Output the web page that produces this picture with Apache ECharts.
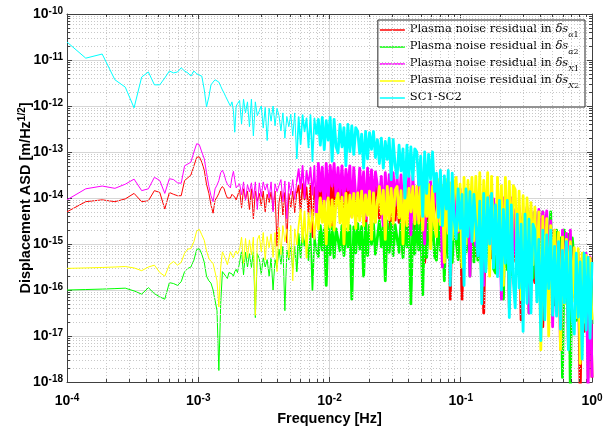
<!DOCTYPE html>
<html><head><meta charset="utf-8">
<script src="https://cdn.jsdelivr.net/npm/echarts@6/dist/echarts.min.js"></script>
<style>html,body{margin:0;padding:0;background:#fff}#c{width:603px;height:426px}</style>
</head><body><div id="c"></div>
<script>
// Frequency grid, log10(f / Hz)
const logFreq = [
-4.000,-3.857,-3.732,-3.635,-3.556,-3.489,-3.431,-3.380,-3.334,-3.293,-3.255,-3.220,-3.188,-3.158,-3.130,-3.104,-3.079,-3.056,-3.033,-3.012,-2.992,-2.973,-2.954,-2.937,-2.919,-2.903,-2.887,-2.872,-2.857,-2.843,-2.829,-2.816,-2.803,-2.790,-2.778,-2.766,-2.755,-2.743,-2.732,-2.722,-2.711,-2.701,
-2.685,-2.670,-2.655,-2.640,-2.625,-2.610,-2.595,-2.580,-2.565,-2.550,
-2.535,-2.520,-2.505,-2.490,-2.475,-2.460,-2.445,-2.430,-2.415,-2.400,
-2.385,-2.370,-2.355,-2.340,-2.325,-2.310,-2.295,-2.280,-2.265,-2.250,
-2.235,-2.220,-2.205,-2.190,-2.175,-2.160,-2.145,-2.130,-2.115,-2.100,
-2.085,-2.070,-2.055,-2.040,-2.025,-2.010,-1.995,-1.980,-1.965,-1.950,
-1.935,-1.920,-1.905,-1.890,-1.875,-1.860,-1.845,-1.830,-1.815,-1.800,
-1.785,-1.770,-1.755,-1.740,-1.725,-1.710,-1.695,-1.680,-1.665,-1.650,
-1.635,-1.620,-1.605,-1.590,-1.575,-1.560,-1.545,-1.530,-1.515,-1.500,
-1.485,-1.470,-1.455,-1.440,-1.425,-1.410,-1.395,-1.380,-1.365,-1.350,
-1.335,-1.320,-1.305,-1.290,-1.275,-1.260,-1.245,-1.230,-1.215,-1.200,
-1.185,-1.170,-1.155,-1.140,-1.125,-1.110,-1.095,-1.080,-1.065,-1.050,
-1.035,-1.020,-1.005,-0.990,-0.975,-0.960,-0.945,-0.930,-0.915,-0.900,
-0.885,-0.870,-0.855,-0.840,-0.825,-0.810,-0.795,-0.780,-0.765,-0.750,
-0.735,-0.720,-0.705,-0.690,-0.675,-0.660,-0.645,-0.630,-0.615,-0.600,
-0.585,-0.570,-0.555,-0.540,-0.525,-0.510,-0.495,-0.480,-0.465,-0.450,
-0.435,-0.420,-0.405,-0.390,-0.375,-0.360,-0.345,-0.330,-0.315,-0.300,
-0.285,-0.270,-0.255,-0.240,-0.225,-0.210,-0.195,-0.180,-0.165,-0.150,
-0.135,-0.120,-0.105,-0.090,-0.075,-0.060,-0.045,-0.030,-0.015,0.000];

// Series values, log10(ASD / (m/Hz^1/2))
const redAlpha1 = [
-14.30,-14.08,-14.04,-14.08,-14.02,-13.90,-14.08,-14.06,-13.84,-13.88,-14.24,-13.88,-13.92,-13.95,-13.95,-13.62,-13.56,-13.50,-13.30,-13.12,-13.10,-13.22,-13.40,-13.70,-13.90,-14.15,-14.33,-14.05,-13.98,-13.90,-13.80,-13.75,-13.80,-13.92,-14.00,-14.04,-14.00,-13.92,-13.90,-13.98,-14.04,-14.00,
-13.82,-14.21,-13.80,-14.03,-13.85,-14.25,-13.80,-14.45,-13.85,-14.07,
-13.90,-14.17,-13.85,-14.30,-13.92,-14.10,-13.87,-14.26,-13.85,-15.05,
-14.10,-13.85,-14.37,-13.88,-14.98,-13.90,-14.21,-13.85,-14.32,-13.90,
-13.73,-14.29,-13.70,-14.03,-13.77,-14.35,-13.70,-14.85,-13.77,-14.09,
-13.59,-14.15,-13.55,-14.25,-13.62,-14.04,-13.55,-14.60,-13.59,-14.18,
-13.60,-14.16,-13.67,-14.70,-13.60,-14.30,-13.64,-14.06,-13.60,-14.27,
-14.37,-13.70,-14.23,-13.77,-14.80,-13.70,-14.33,-13.74,-14.40,-13.77,
-13.84,-14.44,-13.80,-14.55,-13.88,-14.33,-13.80,-15.00,-13.84,-14.48,
-13.85,-14.53,-13.94,-15.20,-13.85,-14.70,-13.89,-14.40,-13.85,-14.66,
-14.76,-13.90,-14.58,-13.99,-15.40,-13.90,-14.71,-13.95,-14.80,-13.99,
-14.05,-14.85,-14.00,-15.00,-14.10,-14.70,-14.00,-16.20,-14.05,-14.90,
-14.10,-14.90,-14.20,-16.20,-14.10,-15.10,-14.15,-14.75,-14.10,-15.05,
-15.25,-14.20,-15.03,-14.31,-16.50,-14.20,-15.19,-14.26,-15.30,-14.31,
-14.36,-15.32,-14.30,-15.50,-14.42,-15.14,-14.30,-16.40,-14.36,-15.38,
-14.40,-15.44,-14.53,-16.65,-14.40,-15.70,-14.47,-15.25,-14.40,-15.64,
-15.84,-14.60,-15.58,-14.73,-16.80,-14.60,-15.77,-14.67,-15.90,-14.73,
-14.97,-16.09,-14.90,-16.30,-15.04,-15.88,-14.90,-17.20,-14.97,-16.16,
-15.30,-16.58,-15.46,-18.30,-15.30,-16.90,-15.38,-16.34,-15.30,-17.90];

const greenAlpha2 = [
-16.00,-15.99,-15.98,-15.97,-15.96,-16.02,-16.09,-15.95,-16.08,-16.15,-16.20,-15.84,-15.86,-15.90,-15.82,-15.60,-15.53,-15.50,-15.35,-15.12,-15.10,-15.22,-15.40,-15.70,-15.80,-15.85,-16.00,-16.00,-16.45,-17.75,-16.30,-15.60,-15.60,-15.70,-15.75,-15.62,-15.58,-15.65,-15.70,-15.60,-15.55,-15.62,
-15.40,-15.15,-15.67,-15.18,-15.50,-15.21,-15.51,-15.15,-16.60,-15.21,
-15.32,-15.66,-15.30,-15.50,-15.34,-15.70,-15.30,-16.00,-15.34,-15.54,
-15.11,-15.44,-15.05,-16.45,-15.13,-15.35,-15.08,-15.55,-15.05,-15.60,
-14.78,-15.29,-14.75,-15.05,-14.81,-15.35,-14.75,-16.00,-14.81,-15.11,
-15.27,-14.60,-15.13,-14.67,-15.90,-14.60,-15.23,-14.64,-15.30,-14.67,
-14.63,-15.15,-14.60,-15.25,-14.67,-15.06,-14.60,-16.20,-14.63,-15.19,
-14.55,-15.11,-14.62,-15.70,-14.55,-15.25,-14.59,-15.01,-14.55,-15.22,
-15.21,-14.50,-15.06,-14.58,-15.80,-14.50,-15.18,-14.54,-15.25,-14.58,
-14.54,-15.18,-14.50,-15.30,-14.58,-15.06,-14.50,-16.30,-14.54,-15.22,
-14.45,-15.13,-14.54,-16.10,-14.45,-15.30,-14.49,-15.00,-14.45,-15.26,
-15.35,-14.40,-15.15,-14.50,-15.80,-14.40,-15.30,-14.45,-15.40,-14.50,
-14.46,-15.34,-14.40,-15.50,-14.51,-15.17,-14.40,-15.70,-14.46,-15.39,
-14.35,-15.35,-14.48,-15.95,-14.35,-15.60,-14.41,-15.16,-14.35,-15.54,
-15.63,-14.30,-15.35,-14.44,-16.20,-14.30,-15.56,-14.37,-15.70,-14.44,
-14.33,-15.65,-14.25,-15.90,-14.42,-15.41,-14.25,-16.50,-14.33,-15.74,
-14.30,-15.74,-14.48,-16.80,-14.30,-16.10,-14.39,-15.47,-14.30,-16.01,
-16.32,-14.70,-15.98,-14.87,-17.90,-14.70,-16.23,-14.79,-18.20,-14.87,
-15.38,-16.66,-15.30,-16.90,-15.46,-16.42,-15.30,-17.90,-15.38,-16.74];

const magentaX1 = [
-14.04,-13.80,-13.74,-13.79,-13.70,-13.59,-13.84,-13.80,-13.55,-13.62,-13.90,-13.58,-13.60,-13.67,-13.68,-13.30,-13.26,-13.22,-13.00,-12.82,-12.84,-13.00,-13.15,-13.45,-13.75,-13.95,-14.08,-13.80,-13.72,-13.62,-13.45,-13.40,-13.48,-13.62,-13.70,-13.72,-13.78,-13.55,-13.42,-13.60,-13.78,-13.76,
-13.69,-13.93,-13.65,-14.05,-13.71,-13.87,-13.67,-14.01,-13.65,-14.25,
-13.67,-13.97,-13.65,-13.83,-13.69,-14.00,-13.65,-14.30,-13.69,-13.86,
-13.83,-13.60,-14.08,-13.63,-14.45,-13.65,-13.93,-13.60,-14.03,-13.65,
-13.37,-13.79,-13.30,-14.00,-13.41,-13.69,-13.34,-13.93,-13.30,-14.40,
-13.25,-13.85,-13.33,-14.30,-13.25,-14.00,-13.29,-13.74,-13.25,-13.96,
-13.34,-13.94,-13.30,-14.05,-13.38,-13.83,-13.30,-14.40,-13.34,-13.98,
-14.06,-13.35,-13.91,-13.43,-14.45,-13.35,-14.03,-13.39,-14.10,-13.43,
-13.45,-14.05,-13.53,-14.60,-13.45,-14.20,-13.49,-13.94,-13.45,-14.16,
-13.54,-14.18,-13.50,-14.30,-13.58,-14.06,-13.50,-14.80,-13.54,-14.22,
-14.46,-13.60,-14.28,-13.69,-15.00,-13.60,-14.41,-13.65,-14.50,-13.69,
-13.70,-14.50,-13.80,-15.50,-13.70,-14.70,-13.75,-14.35,-13.70,-14.65,
-13.86,-14.74,-13.80,-14.90,-13.91,-14.57,-13.80,-15.70,-13.86,-14.79,
-15.04,-13.90,-14.80,-14.02,-15.90,-13.90,-14.98,-13.96,-15.10,-14.02,
-14.00,-15.04,-14.13,-16.20,-14.00,-15.30,-14.07,-14.85,-14.00,-15.24,
-14.27,-15.31,-14.20,-15.50,-14.33,-15.11,-14.20,-16.50,-14.27,-15.37,
-14.30,-14.85,-14.25,-14.90,-14.30,-14.75,-14.28,-15.60,-14.50,-16.80,
-14.70,-15.74,-14.83,-17.30,-14.70,-16.00,-14.77,-15.55,-14.70,-15.94,
-15.28,-16.56,-15.20,-16.80,-15.36,-16.32,-15.20,-18.20,-15.28,-17.90];

const yellowX2 = [
-15.53,-15.52,-15.51,-15.50,-15.49,-15.52,-15.58,-15.50,-15.46,-15.62,-15.70,-15.45,-15.38,-15.46,-15.40,-15.20,-15.11,-15.10,-14.95,-14.72,-14.68,-14.80,-14.92,-15.15,-15.31,-15.38,-15.42,-15.40,-15.80,-16.37,-15.50,-15.17,-15.25,-15.35,-15.45,-15.30,-15.17,-15.25,-15.30,-15.20,-15.15,-15.22,
-15.12,-14.85,-15.42,-14.88,-15.30,-14.91,-15.24,-14.85,-16.55,-14.91,
-14.81,-15.17,-14.75,-15.35,-14.84,-15.08,-14.78,-15.29,-14.75,-15.60,
-14.64,-15.23,-14.60,-14.95,-14.67,-15.30,-14.60,-15.80,-14.67,-15.02,
-14.59,-14.25,-14.96,-14.29,-15.30,-14.33,-14.74,-14.25,-14.89,-14.33,
-14.67,-14.00,-14.53,-14.07,-15.00,-14.00,-14.63,-14.04,-14.70,-14.07,
-13.90,-14.54,-13.98,-15.00,-13.90,-14.70,-13.94,-14.42,-13.90,-14.66,
-13.89,-14.49,-13.85,-14.60,-13.93,-14.38,-13.85,-14.90,-13.89,-14.53,
-14.51,-13.75,-14.35,-13.83,-14.90,-13.75,-14.47,-13.79,-14.55,-13.83,
-13.75,-14.43,-13.84,-15.00,-13.75,-14.60,-13.79,-14.30,-13.75,-14.56,
-13.75,-14.55,-13.70,-14.70,-13.80,-14.40,-13.70,-15.10,-13.75,-14.60,
-14.84,-13.60,-14.58,-13.73,-15.40,-13.60,-14.77,-13.67,-14.90,-13.73,
-13.55,-14.71,-13.70,-15.50,-13.55,-15.00,-13.62,-14.49,-13.55,-14.93,
-13.53,-14.85,-13.45,-15.10,-13.62,-14.61,-13.45,-15.70,-13.53,-14.94,
-15.21,-13.55,-14.86,-13.73,-15.90,-13.55,-15.13,-13.64,-15.30,-13.73,
-13.82,-15.40,-13.85,-16.20,-13.95,-15.50,-14.00,-15.10,-14.10,-15.45,
-14.20,-15.80,-14.30,-17.30,-14.40,-15.90,-14.45,-17.00,-14.60,-15.60,
-14.70,-16.20,-14.75,-17.30,-14.85,-16.30,-14.90,-15.90,-14.95,-16.25,
-15.08,-16.60,-15.10,-17.60,-15.20,-16.70,-15.25,-16.30,-15.30,-16.65];

const cyanSC12 = [
-10.61,-10.96,-10.87,-11.43,-11.59,-12.04,-11.37,-11.26,-11.54,-11.54,-11.39,-11.24,-11.28,-11.26,-11.17,-11.24,-11.28,-11.35,-11.24,-11.30,-11.33,-11.35,-11.65,-12.02,-11.80,-11.54,-11.48,-11.43,-11.46,-11.48,-11.57,-11.65,-11.72,-11.80,-11.87,-11.83,-12.00,-11.91,-12.10,-12.57,-12.00,-11.95,
-11.88,-12.39,-11.85,-12.15,-11.91,-12.45,-11.85,-12.65,-11.91,-12.21,
-12.23,-12.00,-12.48,-12.03,-12.75,-12.05,-12.33,-12.00,-12.43,-12.05,
-12.21,-12.54,-12.15,-12.70,-12.23,-12.45,-12.18,-12.65,-12.15,-13.15,
-12.24,-12.83,-12.20,-12.55,-12.27,-12.90,-12.20,-13.20,-12.27,-12.62,
-12.29,-12.85,-12.25,-12.95,-12.32,-12.74,-12.25,-13.20,-12.29,-12.88,
-13.02,-12.40,-12.89,-12.47,-13.30,-12.40,-12.99,-12.43,-13.05,-12.47,
-12.55,-13.03,-12.61,-13.35,-12.55,-13.15,-12.58,-12.94,-12.55,-13.12,
-12.73,-13.25,-12.70,-13.35,-12.77,-13.16,-12.70,-13.60,-12.73,-13.29,
-13.56,-12.85,-13.41,-12.93,-14.00,-12.85,-13.53,-12.89,-13.60,-12.93,
-13.00,-13.72,-13.09,-14.40,-13.00,-13.90,-13.05,-13.59,-13.00,-13.86,
-13.46,-14.42,-13.40,-14.60,-13.52,-14.24,-13.40,-15.90,-13.46,-14.48,
-14.89,-13.80,-14.66,-13.92,-15.90,-13.80,-14.84,-13.86,-14.95,-13.92,
-13.90,-15.26,-14.07,-16.30,-13.90,-15.60,-13.99,-15.00,-13.90,-15.52,
-14.15,-15.71,-14.05,-16.00,-14.25,-15.42,-14.05,-16.60,-14.15,-15.81,
-16.39,-14.35,-15.96,-14.57,-16.90,-14.35,-16.29,-14.46,-16.50,-14.57,
-14.70,-16.26,-14.90,-17.10,-14.70,-16.65,-14.80,-15.97,-14.70,-16.55,
-15.05,-16.57,-14.95,-16.85,-15.14,-16.28,-14.95,-17.30,-15.05,-16.66,
-16.96,-15.20,-16.59,-15.39,-17.50,-15.20,-16.87,-15.29,-17.05,-15.39];

const seriesNames = ['Plasma noise residual in δsα1','Plasma noise residual in δsα2','Plasma noise residual in δsX1','Plasma noise residual in δsX2','SC1-SC2'];
const seriesColors = ['#ff0000','#00ff00','#ff00ff','#ffff00','#00ffff'];
const seriesValues = [redAlpha1, greenAlpha2, magentaX1, yellowX2, cyanSC12];
const xTickExponents = [-4,-3,-2,-1,0];
const yTickExponents = [-18,-17,-16,-15,-14,-13,-12,-11,-10];

const X_MIN = Math.pow(10, xTickExponents[0]), X_MAX = Math.pow(10, xTickExponents[xTickExponents.length-1]);
const Y_MIN = Math.pow(10, yTickExponents[0]), Y_MAX = Math.pow(10, yTickExponents[yTickExponents.length-1]);
// the spectra turn into dense bands: draw those stretches with thicker strokes
const segments = [{from:0, to:71, width:1}, {from:71, to:81, width:1.7}, {from:81, to:221, width:2.8}];

const chart = echarts.init(document.getElementById('c'), null, {renderer:'canvas'});
const SANS = 'Liberation Sans, Arial, sans-serif';
const SERIF = 'DejaVu Serif, serif';

function expLabel(v){ const e = Math.round(Math.log10(v)); return '{b|10}{s|' + e + '}'; }
const labelRich = {
  b:{fontFamily:SANS,fontWeight:'bold',fontSize:14,color:'#000',lineHeight:15,verticalAlign:'bottom'},
  s:{fontFamily:SANS,fontWeight:'bold',fontSize:10,color:'#000',lineHeight:11,verticalAlign:'top',padding:[0,0,8,0]}
};

const minorX = [], minorY = [];
for (let d = xTickExponents[0]; d < xTickExponents[xTickExponents.length-1]; d++) for (let m = 2; m <= 9; m++) minorX.push(m*Math.pow(10,d));
for (let d = yTickExponents[0]; d < yTickExponents[yTickExponents.length-1]; d++) for (let m = 2; m <= 9; m++) minorY.push(m*Math.pow(10,d));
const gridLines = [];
minorX.forEach(x => gridLines.push([{coord:[x,Y_MIN]},{coord:[x,Y_MAX]}]));
minorY.forEach(y => gridLines.push([{coord:[X_MIN,y]},{coord:[X_MAX,y]}]));
const ty = Math.pow(10, 3*8/368), tx = Math.pow(10, 3*4/525);
const tickLines = [];
minorX.forEach(x => { tickLines.push([{coord:[x,Y_MIN]},{coord:[x,Y_MIN*ty]}]); tickLines.push([{coord:[x,Y_MAX]},{coord:[x,Y_MAX/ty]}]); });
minorY.forEach(y => { tickLines.push([{coord:[X_MIN,y]},{coord:[X_MIN*tx,y]}]); tickLines.push([{coord:[X_MAX,y]},{coord:[X_MAX/tx,y]}]); });

function helper(lines, style, z){
  return {type:'line', data:[[X_MIN,Y_MIN]], symbol:'none', lineStyle:{opacity:0}, z:z, silent:true,
    markLine:{silent:true, symbol:['none','none'], label:{show:false}, animation:false, lineStyle:style, data:lines}};
}
const series = [
  helper(gridLines, {color:'#c8c8c8', type:[1,2], width:1}, 1),
  helper(tickLines, {color:'#404040', type:'solid', width:1}, 1)
];
seriesValues.forEach((vals, k) => {
  const pts = vals.map((v,i) => [Math.pow(10, logFreq[i]), Math.pow(10, v)]);
  segments.forEach(sg => {
    series.push({name: seriesNames[k], type:'line', showSymbol:false, symbol:'none', clip:true, silent:true,
      z: 3 + k, color: seriesColors[k], lineStyle:{color:seriesColors[k], width:sg.width, join:'round'},
      data: pts.slice(sg.from, sg.to + 1)});
  });
});

const legendRich = {
  t:{fontFamily:SERIF,fontSize:11.5,color:'#000',lineHeight:14,verticalAlign:'top'},
  i:{fontFamily:SERIF,fontSize:11.5,fontStyle:'italic',color:'#000',lineHeight:14,verticalAlign:'top'},
  si:{fontFamily:SERIF,fontSize:8,fontStyle:'italic',color:'#000',lineHeight:8,verticalAlign:'top',padding:[8,0,0,0]},
  sn:{fontFamily:SERIF,fontSize:8,color:'#000',lineHeight:8,verticalAlign:'top',padding:[8,0,0,0]}
};
const legendText = {};
legendText[seriesNames[0]] = '{t|Plasma noise residual in }{i|δs}{si|α}{sn|1}';
legendText[seriesNames[1]] = '{t|Plasma noise residual in }{i|δs}{si|α}{sn|2}';
legendText[seriesNames[2]] = '{t|Plasma noise residual in }{i|δs}{si|X}{sn|1}';
legendText[seriesNames[3]] = '{t|Plasma noise residual in }{i|δs}{si|X}{sn|2}';
legendText[seriesNames[4]] = '{t|SC1-SC2}';

const axisLineStyle = {color:'#404040', width:1};
chart.setOption({
  animation:false,
  backgroundColor:'#fff',
  grid:{left:67, right:11, top:14, bottom:44, containLabel:false, outerBoundsMode:'none'},
  legend:{
    data: seriesNames, orient:'vertical', right:18, top:20,
    backgroundColor:'#fff', borderColor:'#262626', borderWidth:1, padding:[3,6,4,2],
    itemWidth:25, itemHeight:1.5, itemGap:1, icon:'rect',
    textStyle:{fontFamily:SERIF, fontSize:11.5, color:'#000', rich:legendRich},
    formatter: n => legendText[n]
  },
  xAxis:[
    {type:'log', logBase:10, min:X_MIN, max:X_MAX, splitNumber:4, position:'bottom',
     name:'Frequency [Hz]', nameLocation:'middle', nameGap:29, nameMoveOverlap:false,
     nameTextStyle:{fontFamily:SANS, fontWeight:'bold', fontSize:14.5, color:'#000'},
     axisLine:{show:true, lineStyle:axisLineStyle, onZero:false},
     axisTick:{show:true, inside:true, length:5, lineStyle:axisLineStyle},
     axisLabel:{margin:11, formatter:expLabel, rich:labelRich},
     splitLine:{show:true, lineStyle:{color:'#d6d6d6', width:1}}},
    {type:'log', logBase:10, min:X_MIN, max:X_MAX, splitNumber:4, position:'top',
     axisLine:{show:true, lineStyle:axisLineStyle, onZero:false},
     axisTick:{show:true, inside:true, length:5, lineStyle:axisLineStyle},
     axisLabel:{show:false}, splitLine:{show:false}}
  ],
  yAxis:[
    {type:'log', logBase:10, min:Y_MIN, max:Y_MAX, splitNumber:8, position:'left',
     name:'{a|Displacement ASD [m/Hz}{s|1/2}{a|]}', nameLocation:'middle', nameGap:34, nameMoveOverlap:false,
     nameTextStyle:{rich:{
       a:{fontFamily:SANS,fontWeight:'bold',fontSize:14.5,color:'#000',lineHeight:16,verticalAlign:'bottom'},
       s:{fontFamily:SANS,fontWeight:'bold',fontSize:10,color:'#000',lineHeight:11,verticalAlign:'top',padding:[0,0,7,0]}}},
     axisLine:{show:true, lineStyle:axisLineStyle, onZero:false},
     axisTick:{show:true, inside:true, length:5, lineStyle:axisLineStyle},
     axisLabel:{margin:4, formatter:expLabel, rich:labelRich},
     splitLine:{show:true, lineStyle:{color:'#d6d6d6', width:1}}},
    {type:'log', logBase:10, min:Y_MIN, max:Y_MAX, splitNumber:8, position:'right',
     axisLine:{show:true, lineStyle:axisLineStyle, onZero:false},
     axisTick:{show:true, inside:true, length:5, lineStyle:axisLineStyle},
     axisLabel:{show:false}, splitLine:{show:false}}
  ],
  series: series
});
</script>
</body></html>
